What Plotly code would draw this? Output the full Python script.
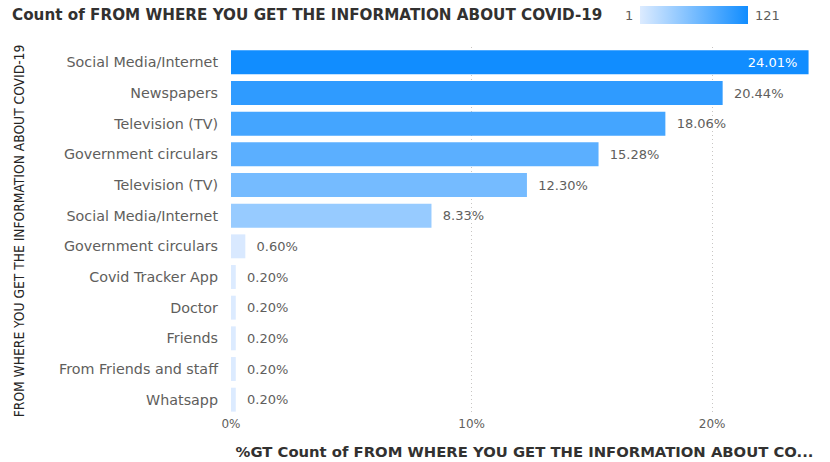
import plotly.graph_objects as go

# Information sources, counted responses (top to bottom)
sources = [
    "Social Media/Internet",
    "Newspapers",
    "Television (TV)",
    "Government circulars",
    "Television (TV)",
    "Social Media/Internet",
    "Government circulars",
    "Covid Tracker App",
    "Doctor",
    "Friends",
    "From Friends and staff",
    "Whatsapp",
]
counts = [121, 103, 91, 77, 62, 42, 3, 1, 1, 1, 1, 1]

x_ticks = [0, 10, 20]
x_tick_labels = ["0%", "10%", "20%"]

total = sum(counts)
pct = [c / total * 100 for c in counts]
positions = list(range(len(sources)))

W, H = 830, 462
ML, MR, MT, MB = 231, 12, 47, 47
PW, PH = W - ML - MR, H - MT - MB

NBSP = "\u00a0"
font = "DejaVu Sans, Verdana, sans-serif"
grey = "#605E5C"
dark = "#323130"

def px_x(px):
    return (px - ML) / PW

def px_y(py):
    return 1 + (MT - py) / PH

# first bar carries its label inside, the rest outside
text_pos = ["inside" if i == 0 else "outside" for i in range(len(pct))]
labels = [
    (f"{v:.2f}%" + NBSP * 2) if i == 0 else (NBSP * 2 + f"{v:.2f}%")
    for i, v in enumerate(pct)
]

fig = go.Figure(
    go.Bar(
        x=pct,
        y=positions,
        orientation="h",
        marker=dict(color=counts, coloraxis="coloraxis", line=dict(width=0)),
        text=labels,
        textposition=text_pos,
        insidetextanchor="end",
        outsidetextfont=dict(family=font, size=13, color=grey),
        insidetextfont=dict(family=font, size=13, color="#FFFFFF"),
        cliponaxis=False,
        hoverinfo="skip",
    )
)

fig.update_layout(
    width=W,
    height=H,
    margin=dict(l=ML, r=MR, t=MT, b=MB, autoexpand=False),
    paper_bgcolor="white",
    plot_bgcolor="white",
    bargap=0.22,
    showlegend=False,
    title=dict(
        text="Count of FROM WHERE YOU GET THE INFORMATION ABOUT COVID-19",
        x=12 / W,
        xanchor="left",
        xref="container",
        y=1 - 15 / H,
        yanchor="middle",
        yref="container",
        font=dict(family=font, size=15.2, color=dark, weight="bold"),
    ),
    coloraxis=dict(
        cmin=min(counts),
        cmax=max(counts),
        colorscale=[[0, "#DCEBFF"], [1, "#118DFF"]],
        colorbar=dict(
            orientation="h",
            xref="paper",
            yref="paper",
            x=px_x(640),
            xanchor="left",
            y=px_y(6),
            yanchor="top",
            lenmode="pixels",
            len=108,
            thickness=18,
            xpad=0,
            ypad=0,
            outlinewidth=0,
            showticklabels=False,
            ticks="",
        ),
    ),
    annotations=[
        dict(
            text=str(min(counts)),
            xref="paper", yref="paper",
            x=px_x(635), y=px_y(15),
            xanchor="right", yanchor="middle",
            showarrow=False,
            font=dict(family=font, size=13, color=grey),
        ),
        dict(
            text=str(max(counts)),
            xref="paper", yref="paper",
            x=px_x(753), y=px_y(15),
            xanchor="left", yanchor="middle",
            showarrow=False,
            font=dict(family=font, size=13, color=grey),
        ),
    ],
)

fig.update_xaxes(
    range=[0, 24.4],
    tickvals=x_ticks,
    ticktext=x_tick_labels,
    showgrid=True,
    gridcolor="#C8C6C4",
    griddash="1px,3px",
    gridwidth=1,
    zeroline=False,
    showline=False,
    ticks="",
    tickfont=dict(family=font, size=12, color=grey),
    title=dict(
        text="%GT Count of FROM WHERE YOU GET THE INFORMATION ABOUT CO...",
        font=dict(family=font, size=14.8, color=dark, weight="bold"),
        standoff=16,
    ),
)

fig.update_yaxes(
    tickvals=positions,
    ticktext=sources,
    range=[len(sources) - 0.5, -0.5],
    showgrid=False,
    zeroline=False,
    showline=False,
    ticks="",
    ticklabelstandoff=12,
    tickfont=dict(family=font, size=14.3, color=grey),
    title=dict(
        text="FROM WHERE YOU GET THE INFORMATION ABOUT COVID-19",
        font=dict(family="DejaVu Sans Condensed, Liberation Sans Narrow, sans-serif",
                  size=13.7, color="#252423"),
        standoff=31,
    ),
)

fig.write_html("out.html")
